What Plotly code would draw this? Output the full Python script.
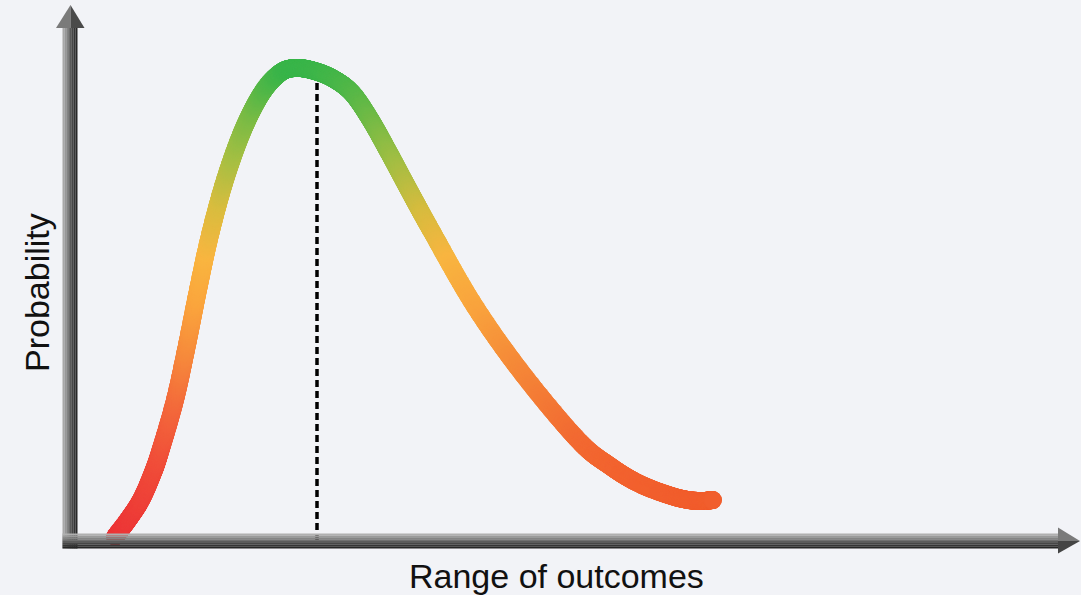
import numpy as np
import plotly.graph_objects as go

# ---------------- data ----------------
# x: position along "Range of outcomes", y: "Probability" (arbitrary units)
outcome = [4.5, 5.8, 7.1, 8.2, 9.0, 10.5, 11.7, 12.8, 14.0, 15.5, 17.3, 19.2, 21.0, 22.5,
           24.3, 26.3, 28.2, 30.0, 31.8, 34.0, 36.2, 40.4, 45.2, 50.8, 54.0, 57.0, 60.5, 62.8, 64.3]
probability = [0.8, 4.2, 8.2, 13.2, 17.8, 28.2, 39.2, 50.2, 61.2, 72.2, 82.2, 89.6, 93.6, 94.6,
               94.1, 92.5, 89.6, 84.4, 78.0, 69.8, 61.8, 47.2, 33.6, 20.2, 15.0, 11.4, 8.8, 8.0, 8.2]
mode_outcome = 24.7          # dashed marker position
x_title = "Range of outcomes"
y_title = "Probability"

# ---------------- frame ----------------
W, H = 1081, 595
X_RANGE = [-7.0, 101.1]
Y_RANGE = [-10.8, 108.2]
BG = "#f2f3f7"

# colour stops (rising side / falling side), by probability value
rise_scale = [[0.00, "#ec3237"], [0.19, "#f0503a"], [0.30, "#f36a3b"],
              [0.40, "#f6883c"], [0.51, "#faa43d"], [0.61, "#f9b540"],
              [0.72, "#d8bd3f"], [0.82, "#a6bf43"], [0.91, "#78bb45"],
              [1.00, "#39b54a"]]
fall_scale = [[0.00, "#f1552a"], [0.21, "#f26a32"], [0.36, "#f58838"],
              [0.48, "#f9a33d"], [0.59, "#f8b540"], [0.69, "#d5bc3f"],
              [0.80, "#9dbe44"], [0.91, "#63b947"], [1.00, "#39b54a"]]


def smooth_path(xs, ys, per_seg=60):
    """Catmull-Rom rendering path through the read points (for drawing a gradient stroke)."""
    p = np.column_stack([xs, ys]).astype(float)
    p = np.vstack([p[0] * 2 - p[1], p, p[-1] * 2 - p[-2]])
    out = []
    for i in range(1, len(p) - 2):
        p0, p1, p2, p3 = p[i - 1], p[i], p[i + 1], p[i + 2]
        for t in np.linspace(0, 1, per_seg, endpoint=False):
            t2, t3 = t * t, t * t * t
            out.append(0.5 * ((2 * p1) + (-p0 + p2) * t +
                              (2 * p0 - 5 * p1 + 4 * p2 - p3) * t2 +
                              (-p0 + 3 * p1 - 3 * p2 + p3) * t3))
    out.append(p[-2])
    out = np.array(out)
    return out[:, 0], out[:, 1]


sx, sy = smooth_path(outcome, probability)
peak_i = int(np.argmax(sy))

fig = go.Figure()

# dashed line at the mode, from the axis up to the curve
mode_top = float(np.interp(mode_outcome, sx, sy)) - 2.0
fig.add_trace(go.Scatter(x=[mode_outcome, mode_outcome], y=[0, mode_top], mode="lines",
                         line=dict(color="#000000", width=3.5, dash="7px,4px"),
                         hoverinfo="skip", showlegend=False))

# gradient stroke: rising side and falling side
for sl, scale in ((slice(0, peak_i + 1), rise_scale), (slice(peak_i, None), fall_scale)):
    fig.add_trace(go.Scatter(
        x=sx[sl], y=sy[sl], mode="markers",
        marker=dict(size=18, color=sy[sl], colorscale=scale, cmin=0, cmax=max(probability),
                    line=dict(width=0)),
        hoverinfo="skip", showlegend=False))

# ---------------- axes drawn as shaded arrows ----------------
shapes = []
ox, oy = 0.0, 0.0
v_half = 0.75            # half width of vertical shaft (data x)
h_half = 1.5             # half height of horizontal shaft (data y)
y_top_base = 102.6
x_right_base = 98.8
greys_v = ["#a8a8a8", "#979797", "#848484", "#6e6e6e", "#5a5a5a", "#474747", "#363636", "#282828"]
greys_h = ["#b0b0b0", "#9a9a9a", "#858585", "#707070", "#5c5c5c", "#474747", "#353535", "#262626"]
n = len(greys_v)
for i, c in enumerate(greys_v):
    x0 = ox - v_half + 2 * v_half * i / n
    x1 = ox - v_half + 2 * v_half * (i + 1) / n
    shapes.append(dict(type="rect", xref="x", yref="y", x0=x0, x1=x1, y0=oy - h_half,
                       y1=y_top_base, fillcolor=c, line=dict(width=0), layer="below"))
for i, c in enumerate(greys_h):
    y1 = oy + h_half - 2 * h_half * i / n
    y0 = oy + h_half - 2 * h_half * (i + 1) / n
    shapes.append(dict(type="rect", xref="x", yref="y", x0=ox - v_half, x1=x_right_base,
                       y0=y0, y1=y1, fillcolor=c, line=dict(width=0), layer="above"))
# arrowheads (two tones)
shapes.append(dict(type="path", xref="x", yref="y",
                   path=f"M {ox-1.4},{y_top_base} L {ox+0.05},{107.2} L {ox+0.05},{y_top_base} Z",
                   fillcolor="#7a7a7a", line=dict(width=0), layer="below"))
shapes.append(dict(type="path", xref="x", yref="y",
                   path=f"M {ox+0.05},{y_top_base} L {ox+0.05},{107.2} L {ox+1.45},{y_top_base} Z",
                   fillcolor="#4a4a4a", line=dict(width=0), layer="below"))
shapes.append(dict(type="path", xref="x", yref="y",
                   path=f"M {x_right_base},{oy+2.7} L {101.0},{oy} L {x_right_base},{oy} Z",
                   fillcolor="#7a7a7a", line=dict(width=0), layer="below"))
shapes.append(dict(type="path", xref="x", yref="y",
                   path=f"M {x_right_base},{oy} L {101.0},{oy} L {x_right_base},{oy-2.5} Z",
                   fillcolor="#444444", line=dict(width=0), layer="below"))

annotations = [
    dict(x=-3.3, y=49.6, xref="x", yref="y", text=y_title, showarrow=False, textangle=-90,
         xanchor="center", yanchor="middle",
         font=dict(family="Liberation Sans, Arial, sans-serif", size=34, color="#111111")),
    dict(x=48.6, y=-7.0, xref="x", yref="y", text=x_title, showarrow=False,
         xanchor="center", yanchor="middle",
         font=dict(family="Liberation Sans, Arial, sans-serif", size=34, color="#111111")),
]

fig.update_layout(
    width=W, height=H,
    margin=dict(l=0, r=0, t=0, b=0),
    paper_bgcolor=BG, plot_bgcolor=BG,
    xaxis=dict(range=X_RANGE, visible=False, fixedrange=True),
    yaxis=dict(range=Y_RANGE, visible=False, fixedrange=True),
    shapes=shapes, annotations=annotations, showlegend=False,
)

fig.write_html(
    "out.html",
    config={"displayModeBar": False},
    post_script=("document.body.style.margin='0';document.body.style.overflow='hidden';"
                 "document.body.style.background='" + BG + "';"),
)
